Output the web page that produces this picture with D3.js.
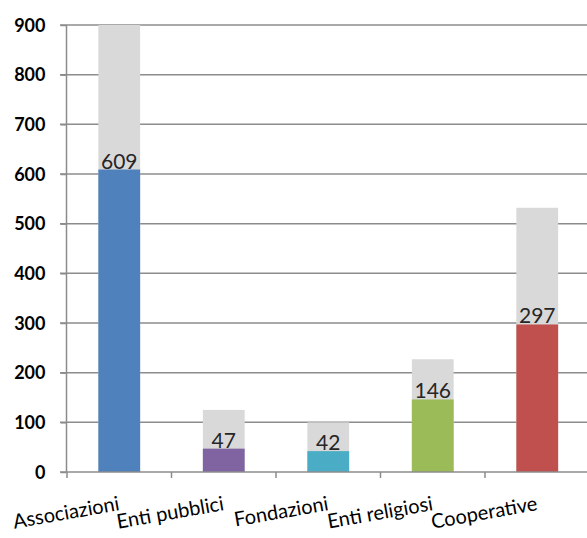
<!DOCTYPE html>
<html><head><meta charset="utf-8">
<script src="https://cdn.jsdelivr.net/npm/d3@7"></script>
<style>body{margin:0;background:#fff}svg{display:block}</style>
</head><body>
<svg id="c" width="587" height="538"></svg>
<script>
const categories = ["Associazioni","Enti pubblici","Fondazioni","Enti religiosi","Cooperative"];
const values = [609, 47, 42, 146, 297];
const totals = [900, 125, 100, 227, 532];
const colors = ["#4f81bd","#8064a2","#4bacc6","#9bbb59","#c0504d"];
const yTicks = [0,100,200,300,400,500,600,700,800,900];

const svg = d3.select("#c");
const font = "Lato, 'Open Sans', sans-serif";
const x = d3.scaleBand().domain(categories).range([67, 589.5]).paddingInner(0.6).paddingOuter(0.3);
const y = d3.scaleLinear().domain([0, 900]).range([472, 25]);

// gridlines
svg.append("g").selectAll("line").data(yTicks.filter(d=>d>0)).join("line")
  .attr("x1", 60).attr("x2", 587).attr("y1", d=>y(d)).attr("y2", d=>y(d))
  .attr("stroke", "#8c8c8c").attr("stroke-width", 1.5);

// grey total bars
svg.append("g").selectAll("rect").data(categories).join("rect")
  .attr("x", d=>x(d)).attr("width", x.bandwidth())
  .attr("y", (d,i)=>y(totals[i])).attr("height", (d,i)=>y(0)-y(totals[i]))
  .attr("fill", "#d9d9d9");
// colored bars
svg.append("g").selectAll("rect").data(categories).join("rect")
  .attr("x", d=>x(d)).attr("width", x.bandwidth())
  .attr("y", (d,i)=>y(values[i])).attr("height", (d,i)=>y(0)-y(values[i]))
  .attr("fill", (d,i)=>colors[i]);

// y axis
const ya = svg.append("g").attr("transform","translate(66.5,0)")
  .call(d3.axisLeft(y).tickValues(yTicks).tickSize(6).tickPadding(15).tickFormat(d3.format("d")));
ya.select(".domain").attr("stroke","#8c8c8c").attr("stroke-width",1.5).attr("d","M0,25V472");
ya.selectAll(".tick line").attr("stroke","#8c8c8c").attr("stroke-width",1.5);
ya.selectAll(".tick text").attr("font-family",font).attr("font-size",18).attr("font-weight","bold").attr("fill","#000").attr("dy","0.35em");

// x axis baseline and ticks
const bounds = d3.range(categories.length+1).map(i=>67 + i*x.step());
svg.append("line").attr("x1",60).attr("x2",587).attr("y1",y(0)).attr("y2",y(0))
  .attr("stroke","#8c8c8c").attr("stroke-width",1.5);
svg.append("g").selectAll("line").data(bounds).join("line")
  .attr("x1",d=>d).attr("x2",d=>d).attr("y1",y(0)).attr("y2",y(0)+6)
  .attr("stroke","#8c8c8c").attr("stroke-width",1.5);

// x labels
svg.append("g").selectAll("text").data(categories).join("text")
  .attr("transform", d=>`translate(${x(d)+x.bandwidth()/2+1},510) rotate(-10)`)
  .attr("text-anchor","end").attr("font-family",font).attr("font-size",20).attr("fill","#000")
  .text(d=>d);

// value labels
svg.append("g").selectAll("text").data(categories).join("text")
  .attr("x", d=>x(d)+x.bandwidth()/2).attr("y",(d,i)=>y(values[i])-1)
  .attr("text-anchor","middle").attr("font-family",font).attr("font-size",21).attr("fill","#262626")
  .text((d,i)=>values[i]);
</script>
</body></html>
